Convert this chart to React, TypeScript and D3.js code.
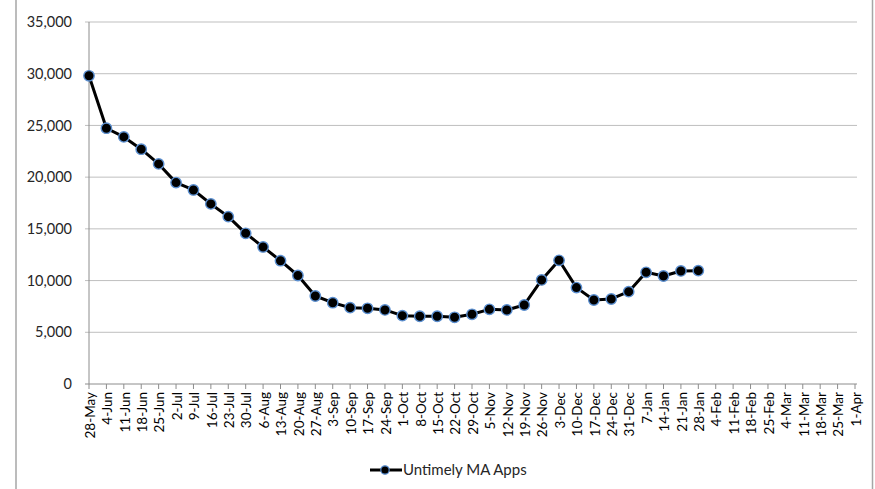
import React from 'react';
import { scaleLinear, scalePoint, line } from 'd3';

const weeks = [
  '28-May', '4-Jun', '11-Jun', '18-Jun', '25-Jun', '2-Jul', '9-Jul', '16-Jul', '23-Jul', '30-Jul',
  '6-Aug', '13-Aug', '20-Aug', '27-Aug', '3-Sep', '10-Sep', '17-Sep', '24-Sep', '1-Oct', '8-Oct',
  '15-Oct', '22-Oct', '29-Oct', '5-Nov', '12-Nov', '19-Nov', '26-Nov', '3-Dec', '10-Dec', '17-Dec',
  '24-Dec', '31-Dec', '7-Jan', '14-Jan', '21-Jan', '28-Jan', '4-Feb', '11-Feb', '18-Feb', '25-Feb',
  '4-Mar', '11-Mar', '18-Mar', '25-Mar', '1-Apr',
];

// weekly counts, 28-May through 28-Jan
const untimelyApps = [
  29800, 24730, 23890, 22700, 21280, 19470, 18760, 17410, 16180, 14570,
  13250, 11920, 10490, 8510, 7860, 7380, 7320, 7160, 6610, 6550,
  6550, 6450, 6740, 7220, 7160, 7640, 10060, 11960, 9320, 8120,
  8220, 8930, 10800, 10440, 10930, 10960,
];

const yTicks = [0, 5000, 10000, 15000, 20000, 25000, 30000, 35000];

const seriesName = 'Untimely MA Apps';

const W = 875;
const H = 489;
const font = 'Lato, "Open Sans", sans-serif';

function App() {
  const x = scalePoint<string>().domain(weeks).range([89, 855]);
  const y = scaleLinear().domain([0, 35000]).range([384, 22]);
  const pts = untimelyApps.map((v, i) => ({ w: weeks[i], v }));
  const path = line<{ w: string; v: number }>()
    .x(d => x(d.w)!)
    .y(d => y(d.v))(pts);

  const fmt = (v: number) => v.toLocaleString('en-US');

  return (
    <svg width={W} height={H} style={{ position: 'absolute', left: 0, top: 0, background: '#fff' }}>
      {/* chart frame */}
      <line x1={16} x2={16} y1={0} y2={H} stroke="#a6a6a6" strokeWidth={1.5} />
      <line x1={872.5} x2={872.5} y1={0} y2={H} stroke="#a6a6a6" strokeWidth={1.5} />

      {/* gridlines */}
      {yTicks.map(t => (
        <line key={t} x1={85} x2={857} y1={y(t)} y2={y(t)} stroke={t === 0 ? '#8c8c8c' : '#bfbfbf'} strokeWidth={1} />
      ))}
      <line x1={89} x2={89} y1={y(35000)} y2={y(0)} stroke="#8c8c8c" />

      {yTicks.map(t => (
        <text key={t} x={72} y={y(t)} dy="0.35em" textAnchor="end" fontFamily={font} fontSize={14.5} fill="#262626">
          {fmt(t)}
        </text>
      ))}

      {weeks.map(w => (
        <g key={w}>
          <line x1={x(w)!} x2={x(w)!} y1={y(0)} y2={y(0) + 5} stroke="#8c8c8c" />
          <text
            transform={`translate(${x(w)! + 1},392) rotate(-90)`}
            textAnchor="end"
            dy="0.35em"
            fontFamily={font}
            fontSize={13.5}
            fill="#000"
          >
            {w}
          </text>
        </g>
      ))}

      <path d={path ?? ''} fill="none" stroke="#000" strokeWidth={3} strokeLinejoin="round" />
      {pts.map(d => (
        <circle key={d.w} cx={x(d.w)!} cy={y(d.v)} r={5.2} fill="#000" stroke="#5b8fd0" strokeWidth={1.4} />
      ))}

      {/* legend */}
      <line x1={370} x2={402} y1={470} y2={470} stroke="#000" strokeWidth={3} />
      <circle cx={385} cy={470} r={4.2} fill="#000" stroke="#5b8fd0" strokeWidth={1.2} />
      <text x={403} y={470} dy="0.35em" fontFamily={font} fontSize={15} fill="#262626">
        {seriesName}
      </text>
    </svg>
  );
}

export default App;
